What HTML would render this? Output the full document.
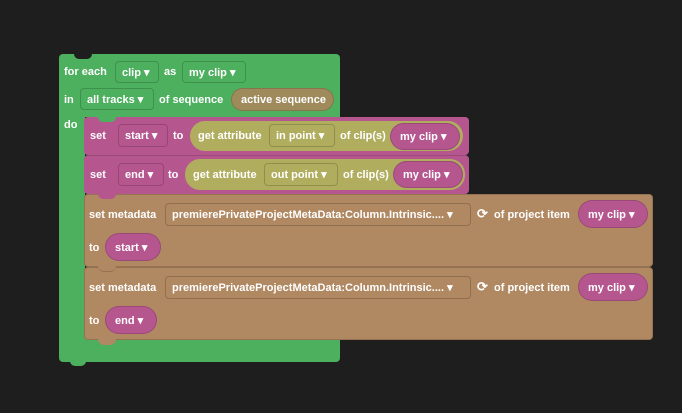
<!DOCTYPE html>
<html><head><meta charset="utf-8"><style>
body{margin:0;width:682px;height:413px;background:#1e1e1e;overflow:hidden;position:relative;font-family:"Liberation Sans",sans-serif;font-weight:bold;font-size:11px;color:#fff}
div{position:absolute;box-sizing:border-box}
.t{white-space:nowrap;line-height:14px}
.dd{border:1px solid rgba(0,0,0,.18);border-radius:4px;white-space:nowrap;padding-left:6px;display:flex;align-items:center}
.pill{border-radius:14px;white-space:nowrap;padding-left:9px;border:1px solid rgba(0,0,0,.15);display:flex;align-items:center}
.g{background:#4cb05e}
.m{background:#b6568f}
.o{background:#b0ad5f}
.b{background:#b08861}
.notch{width:16px;height:5px;border-radius:0 0 6px 6px}
</style></head><body>
<div class="g" style="left:59px;top:54px;width:281px;height:63px;border-radius:4px 4px 0 0"></div>
<div style="left:74px;top:54px;width:18px;height:5px;background:#1e1e1e;border-radius:0 0 6px 6px"></div>
<div class="g" style="left:59px;top:110px;width:26px;height:240px"></div>
<div class="g" style="left:59px;top:338px;width:281px;height:24px;border-radius:0 0 4px 4px"></div>
<div class="g notch" style="left:70px;top:361px"></div>

<div class="t" style="left:64px;top:65px">for each</div>
<div class="dd" style="left:115px;top:61px;width:44px;height:22px">clip ▾</div>
<div class="t" style="left:164px;top:65px">as</div>
<div class="dd" style="left:182px;top:61px;width:64px;height:22px">my clip ▾</div>
<div class="t" style="left:64px;top:93px">in</div>
<div class="dd" style="left:80px;top:88px;width:74px;height:22px">all tracks ▾</div>
<div class="t" style="left:159px;top:93px">of sequence</div>
<div class="pill" style="left:231px;top:88px;width:103px;height:23px;background:#9e8a5b">active sequence</div>
<div class="t" style="left:64px;top:118px">do</div>

<div class="m" style="left:84px;top:117px;width:385px;height:38px;border-radius:4px"></div>
<div class="g" style="left:98px;top:117px;width:18px;height:5px;border-radius:0 0 6px 6px"></div>
<div class="t" style="left:90px;top:129px">set</div>
<div class="dd" style="left:118px;top:124px;width:50px;height:23px">start ▾</div>
<div class="t" style="left:173px;top:129px">to</div>
<div class="o" style="left:190px;top:121px;width:273px;height:30px;border-radius:15px"></div>
<div class="t" style="left:198px;top:129px">get attribute</div>
<div class="dd" style="left:269px;top:124px;width:66px;height:23px">in point ▾</div>
<div class="t" style="left:340px;top:129px">of clip(s)</div>
<div class="pill m" style="left:390px;top:123px;width:70px;height:27px">my clip ▾</div>

<div class="m" style="left:84px;top:155px;width:385px;height:39px;border-radius:4px;border-top:1px solid rgba(0,0,0,.15)"></div>
<div class="t" style="left:90px;top:168px">set</div>
<div class="dd" style="left:118px;top:163px;width:46px;height:23px">end ▾</div>
<div class="t" style="left:168px;top:168px">to</div>
<div class="o" style="left:185px;top:159px;width:280px;height:31px;border-radius:15px"></div>
<div class="t" style="left:193px;top:168px">get attribute</div>
<div class="dd" style="left:264px;top:163px;width:74px;height:23px">out point ▾</div>
<div class="t" style="left:343px;top:168px">of clip(s)</div>
<div class="pill m" style="left:393px;top:161px;width:70px;height:27px">my clip ▾</div>

<div class="b" style="left:84px;top:194px;width:569px;height:73px;border-radius:4px;border:1px solid rgba(0,0,0,.15)"></div>
<div class="m notch" style="left:98px;top:194px;width:18px"></div>
<div class="t" style="left:89px;top:208px">set metadata</div>
<div class="dd" style="left:165px;top:203px;width:306px;height:23px">premierePrivateProjectMetaData:Column.Intrinsic.... ▾</div>
<div class="t" style="left:477px;top:207px;font-size:13px">⟳</div>
<div class="t" style="left:494px;top:208px">of project item</div>
<div class="pill m" style="left:578px;top:200px;width:70px;height:28px">my clip ▾</div>
<div class="t" style="left:89px;top:241px">to</div>
<div class="pill m" style="left:105px;top:233px;width:56px;height:28px">start ▾</div>

<div class="b" style="left:84px;top:267px;width:569px;height:73px;border-radius:4px;border:1px solid rgba(0,0,0,.15)"></div>
<div class="b notch" style="left:98px;top:266px;width:18px;height:6px;border-bottom:1px solid rgba(0,0,0,.15)"></div>
<div class="t" style="left:89px;top:281px">set metadata</div>
<div class="dd" style="left:165px;top:276px;width:306px;height:23px">premierePrivateProjectMetaData:Column.Intrinsic.... ▾</div>
<div class="t" style="left:477px;top:280px;font-size:13px">⟳</div>
<div class="t" style="left:494px;top:281px">of project item</div>
<div class="pill m" style="left:578px;top:273px;width:70px;height:28px">my clip ▾</div>
<div class="t" style="left:89px;top:314px">to</div>
<div class="pill m" style="left:105px;top:306px;width:52px;height:28px">end ▾</div>
<div class="b notch" style="left:98px;top:339px;width:18px;height:6px"></div>
</body></html>
